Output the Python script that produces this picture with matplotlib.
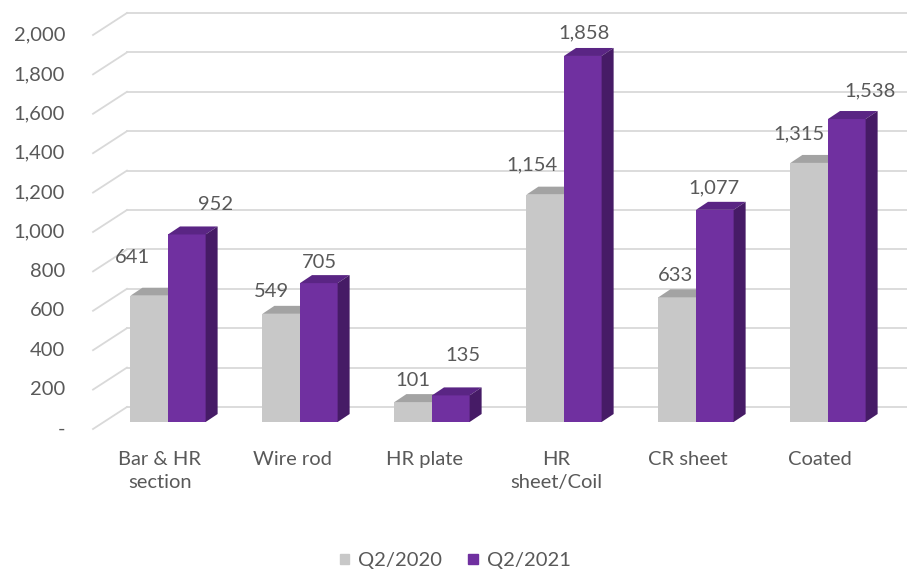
import matplotlib
matplotlib.use("Agg")
import matplotlib.pyplot as plt
from matplotlib.patches import Polygon, Patch
import numpy as np

# ----------------------
# Data
# ----------------------
categories = ["Bar & HR\nsection", "Wire rod", "HR plate", "HR\nsheet/Coil", "CR sheet", "Coated"]
q2_2020 = [641, 549, 101, 1154, 633, 1315]
q2_2021 = [952, 705, 135, 1858, 1077, 1538]
series_names = ["Q2/2020", "Q2/2021"]
y_ticks = [0, 200, 400, 600, 800, 1000, 1200, 1400, 1600, 1800, 2000]

# label nudges (pixels): x shift, upward shift
off_2020 = [(-17, 38), (-10, 22), (0, 22), (-13, 30), (-2, 22), (-10, 29)]
off_2021 = [(29, 30), (1, 21), (12, 40), (1, 23), (-1, 22), (23, 28)]

# ----------------------
# Style
# ----------------------
plt.rcParams["font.family"] = ["Lato", "DejaVu Sans"]
txt = "#595959"
grid_c = "#D9D9D9"
gray_front, gray_top = "#C8C8C8", "#A3A3A3"
purp_front, purp_top, purp_side = "#7030A0", "#5A2584", "#461B66"
fs = 14.5

W, H = 907, 571
fig = plt.figure(figsize=(W / 100, H / 100), dpi=100)
ax = fig.add_axes([0, 0, 1, 1])

# pixel geometry -> data units
px_x = 132.0            # pixels per category
px_v = 394.0 / 2000     # pixels per value unit
x0_px, y0_px = 168, 422
ax.set_xlim(-x0_px / px_x, (W - x0_px) / px_x)
ax.set_ylim((y0_px - H) / px_v, y0_px / px_v)
ax.axis("off")

bw = 0.285                     # bar width
ddx, ddv = 12 / px_x, 8 / px_v  # bar depth
back_dx, back_dv = 0.257, 15 / px_v
front_x, front_dv = -0.568, -7 / px_v
wall_x = front_x + back_dx

# back wall gridlines + left floor/side diagonals
for t in y_ticks:
    ax.plot([wall_x, 10], [t + back_dv, t + back_dv], color=grid_c, lw=1.3, zorder=1)
    ax.plot([front_x, wall_x], [t + front_dv, t + back_dv], color=grid_c, lw=1.3, zorder=1)
    lab = "-" if t == 0 else f"{t:,}"
    ax.text(front_x - 28 / px_x, t + front_dv, lab, ha="right", va="center",
            fontsize=fs, color=txt)

x = np.arange(len(categories))


def draw_bar(xc, v, front, top, side, z):
    xl, xr = xc - bw / 2, xc + bw / 2
    ax.bar(xc, v, width=bw, color=front, zorder=z, linewidth=0)
    ax.add_patch(Polygon([(xl, v), (xr, v), (xr + ddx, v + ddv), (xl + ddx, v + ddv)],
                         closed=True, fc=top, ec="none", zorder=z))
    ax.add_patch(Polygon([(xr, 0), (xr, v), (xr + ddx, v + ddv), (xr + ddx, ddv)],
                         closed=True, fc=side, ec="none", zorder=z))


for i in x:
    z = 3 + i * 2
    draw_bar(i - bw / 2, q2_2020[i], gray_front, gray_top, "#9A9A9A", z)
    draw_bar(i + bw / 2, q2_2021[i], purp_front, purp_top, purp_side, z + 1)
    ax.annotate(f"{q2_2020[i]:,}", (i - bw / 2, q2_2020[i]), xytext=off_2020[i],
                textcoords="offset pixels", ha="center", va="center",
                fontsize=fs, color=txt, zorder=30)
    ax.annotate(f"{q2_2021[i]:,}", (i + bw / 2, q2_2021[i]), xytext=off_2021[i],
                textcoords="offset pixels", ha="center", va="center",
                fontsize=fs, color=txt, zorder=30)
    ax.text(i - 8 / px_x, -29 / px_v, categories[i], ha="center", va="top",
            fontsize=fs, color=txt, linespacing=1.45)

handles = [Patch(color=gray_front), Patch(color=purp_front)]
fig.legend(handles, series_names, loc="center", bbox_to_anchor=(0.502, 0.018),
           ncol=2, frameon=False, fontsize=fs, labelcolor=txt,
           handlelength=0.45, handleheight=0.45, handletextpad=0.45, columnspacing=1.3)

fig.savefig("out.png", dpi=100)
